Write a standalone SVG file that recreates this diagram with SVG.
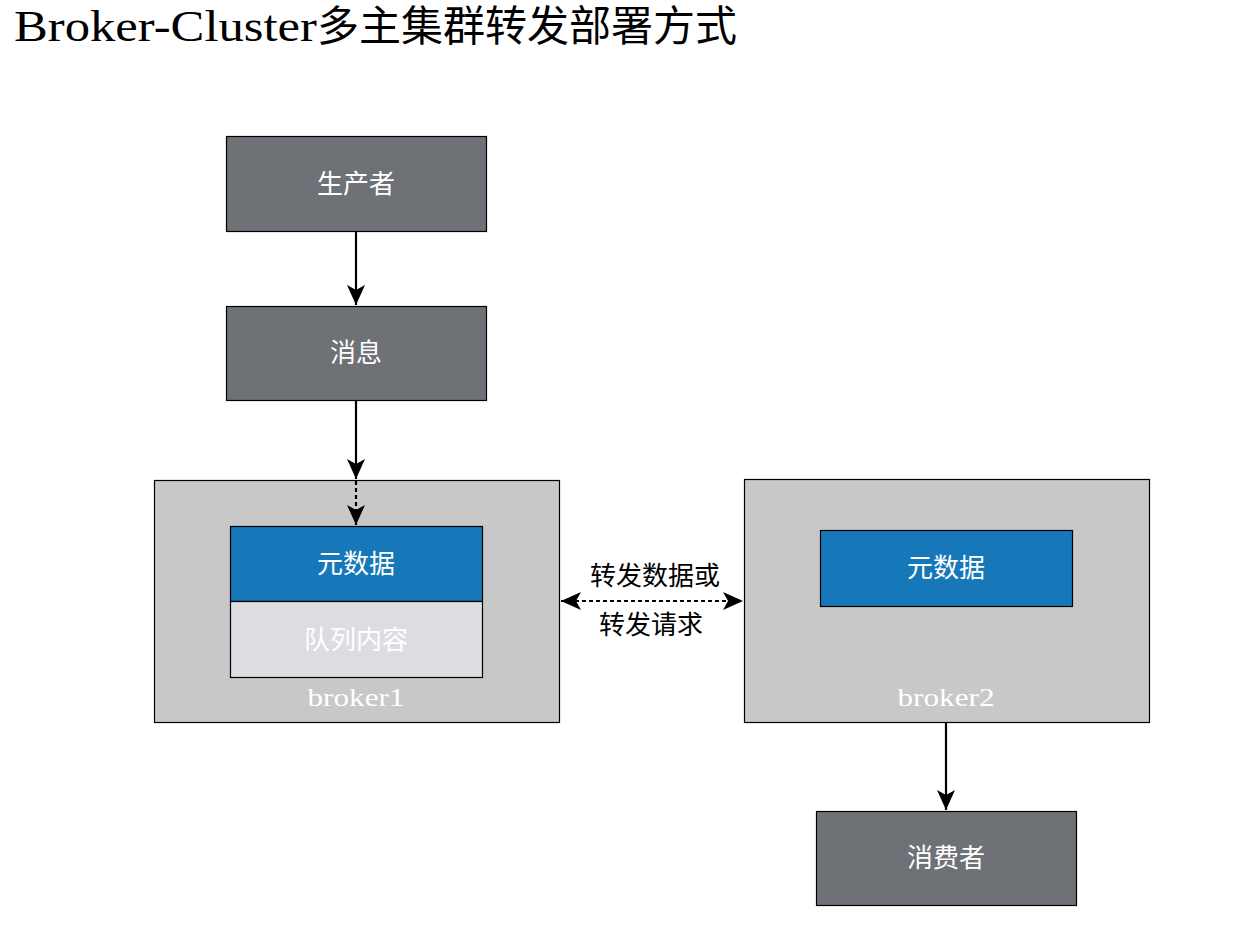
<svg xmlns="http://www.w3.org/2000/svg" width="1239" height="947" viewBox="0 0 1239 947">
<style>
.dark{fill:#6e7176;stroke:#000;stroke-width:1.2}
.outer{fill:#c8c8c8;stroke:#000;stroke-width:1.2}
.blue{fill:#1677b9;stroke:#000;stroke-width:1.2}
.light{fill:#dcdde0;stroke:#000;stroke-width:1.2}
.lbl{font-family:"Noto Sans CJK SC",sans-serif;font-size:26px;fill:#fff;text-anchor:middle}
.blbl{font-family:"Liberation Serif",serif;font-size:25px;fill:#fff;text-anchor:middle}
.conn{stroke:#000;stroke-width:2.2;fill:none}
.dot{stroke-dasharray:4 3}
.elbl{font-family:"Noto Sans CJK SC",sans-serif;font-size:26px;fill:#000;text-anchor:middle}
</style>
<defs>
<marker id="arr" markerUnits="userSpaceOnUse" markerWidth="20" markerHeight="20" viewBox="0 0 20 20" refX="20" refY="10" orient="auto-start-reverse">
<path d="M0,1 L20,10 L0,19 L5,10 Z" fill="#000"/>
</marker>
</defs>
<rect width="1239" height="947" fill="#fff"/>
<text x="14" y="41"><tspan font-family="Liberation Serif" font-size="44" textLength="303" lengthAdjust="spacingAndGlyphs">Broker-Cluster</tspan><tspan font-family="Noto Sans CJK SC" font-size="42">多主集群转发部署方式</tspan></text>

<g id="producer">
<rect class="dark" x="226.5" y="136.5" width="260" height="95"/>
<text class="lbl" x="356" y="193">生产者</text>
</g>
<g id="message">
<rect class="dark" x="226.5" y="306.5" width="260" height="94"/>
<text class="lbl" x="356" y="362">消息</text>
</g>
<g id="broker1">
<rect class="outer" x="154.5" y="480.5" width="405" height="242"/>
<text class="blbl" x="356" y="706" textLength="97" lengthAdjust="spacingAndGlyphs">broker1</text>
</g>
<g id="broker1-meta">
<rect class="blue" x="230.5" y="526.5" width="252" height="75"/>
<text class="lbl" x="356" y="573">元数据</text>
</g>
<g id="broker1-queue">
<rect class="light" x="230.5" y="601.5" width="252" height="76"/>
<text class="lbl" x="356" y="649" fill="#f7f7f7">队列内容</text>
</g>
<g id="broker2">
<rect class="outer" x="744.5" y="479.5" width="405" height="243"/>
<text class="blbl" x="946" y="706" textLength="97" lengthAdjust="spacingAndGlyphs">broker2</text>
</g>
<g id="broker2-meta">
<rect class="blue" x="820.5" y="530.5" width="252" height="76"/>
<text class="lbl" x="946" y="577">元数据</text>
</g>
<g id="consumer">
<rect class="dark" x="816.5" y="811.5" width="260" height="94"/>
<text class="lbl" x="946" y="867">消费者</text>
</g>

<g id="connectors">
<line class="conn" x1="356" y1="231" x2="356" y2="305" marker-end="url(#arr)"/>
<line class="conn" x1="356" y1="401" x2="356" y2="479" marker-end="url(#arr)"/>
<line class="conn dot" x1="356" y1="481" x2="356" y2="525" marker-end="url(#arr)"/>
<line class="conn dot" x1="561" y1="601" x2="743" y2="601" marker-start="url(#arr)" marker-end="url(#arr)"/>
<line class="conn" x1="946" y1="723" x2="946" y2="810" marker-end="url(#arr)"/>
<text class="elbl" x="655" y="585">转发数据或</text>
<text class="elbl" x="651" y="634">转发请求</text>
</g>
</svg>
